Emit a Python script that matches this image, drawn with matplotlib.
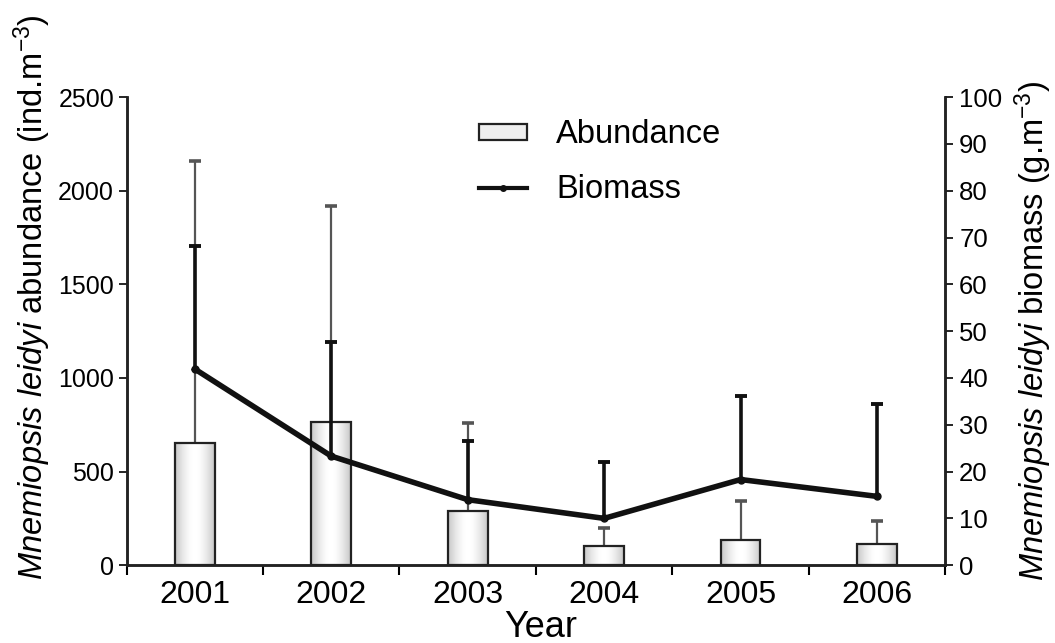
import numpy as np
import matplotlib
matplotlib.use("Agg")
import matplotlib.pyplot as plt
from matplotlib.lines import Line2D
from matplotlib.patches import Rectangle

plt.rcParams['font.family'] = ['Liberation Sans', 'DejaVu Sans']
plt.rcParams['mathtext.fontset'] = 'custom'
plt.rcParams['mathtext.rm'] = 'Liberation Sans'
plt.rcParams['mathtext.it'] = 'Liberation Sans:italic'

years = ['2001', '2002', '2003', '2004', '2005', '2006']
abundance = [650, 765, 290, 105, 135, 112]
abundance_top = [2158, 1918, 760, 198, 342, 238]
biomass = [41.9, 23.3, 14.0, 10.0, 18.3, 14.7]
biomass_top = [68.2, 47.7, 26.6, 22.0, 36.2, 34.5]

abundance_err = [t - v for t, v in zip(abundance_top, abundance)]
biomass_err = [t - v for t, v in zip(biomass_top, biomass)]

x = np.arange(len(years))

fig = plt.figure(figsize=(10.55, 6.43), dpi=100)
ax = fig.add_axes([0.120, 0.121, 0.776, 0.728])
ax2 = ax.twinx()

# bars with a light cylinder-like shading
grad = np.linspace(0, 1, 64)
shade = 0.78 + 0.22 * np.sin(grad * np.pi)
img = np.tile(shade, (2, 1))
bars = ax.bar(x, abundance, width=0.29, color='none', edgecolor='#222222',
              linewidth=1.6, zorder=3)
for b in bars:
    im = ax.imshow(img, cmap='gray', vmin=0, vmax=1, aspect='auto', zorder=2,
                   extent=[b.get_x(), b.get_x() + b.get_width(), 0, b.get_height()])
    im.set_clip_path(b)
eb = ax.errorbar(x, abundance, yerr=[np.zeros(len(x)), abundance_err], fmt='none',
                 ecolor='#555555', elinewidth=1.6, capsize=4, capthick=2.6, zorder=1)
eb[1][0].set_visible(False)

eb2 = ax2.errorbar(x, biomass, yerr=[np.zeros(len(x)), biomass_err], fmt='none',
                   ecolor='#111111', elinewidth=2.6, capsize=4, capthick=2.8, zorder=4)
eb2[1][0].set_visible(False)
ax2.plot(x, biomass, color='#111111', linewidth=4, marker='o', markersize=5,
         zorder=5)

ax.set_xlim(-0.5, len(years) - 0.5)
ax.set_ylim(0, 2500)
ax2.set_ylim(0, 100)
ax.set_yticks(np.arange(0, 2501, 500))
ax2.set_yticks(np.arange(0, 101, 10))

ax.set_xticks(x)
ax.set_xticklabels(years)
ax.set_xticks(np.arange(-0.5, len(years)), minor=True)
ax.tick_params(axis='x', which='major', length=0, pad=11, labelsize=23)
ax.tick_params(axis='x', which='minor', length=7, width=1.5, direction='out')
ax.tick_params(axis='y', length=6, width=1.2, labelsize=18, pad=3)
ax2.tick_params(axis='y', length=6, width=1.2, labelsize=18.5, pad=4)

for a in (ax, ax2):
    a.spines['top'].set_visible(False)
    for s in ('left', 'right', 'bottom'):
        a.spines[s].set_linewidth(1.8)
        a.spines[s].set_color('#222222')

ax.set_xlabel('Year', fontsize=26)
ax.xaxis.set_label_coords(0.506, -0.096)
ax.set_ylabel(r'$\it{Mnemiopsis\ leidyi}$ abundance (ind.m$^{-3}$)', fontsize=23.5)
ax.yaxis.set_label_coords(-0.090, 0.573)
ax2.set_ylabel(r'$\it{Mnemiopsis\ leidyi}$ biomass (g.m$^{-3}$)', fontsize=23.5)
ax2.yaxis.set_label_coords(1.0815, 0.5)

handles = [Rectangle((0, 0), 1, 1, facecolor='#eeeeee', edgecolor='#222222',
                     linewidth=1.6),
           Line2D([], [], color='#111111', linewidth=3, marker='o', markersize=4)]
ax.legend(handles, ['Abundance', 'Biomass'], loc='upper left',
          bbox_to_anchor=(0.411, 0.987), frameon=False, fontsize=23.5,
          borderpad=0, handlelength=1.45, handleheight=0.4, handletextpad=0.9,
          labelspacing=0.71)

fig.savefig('out.png', dpi=100)
